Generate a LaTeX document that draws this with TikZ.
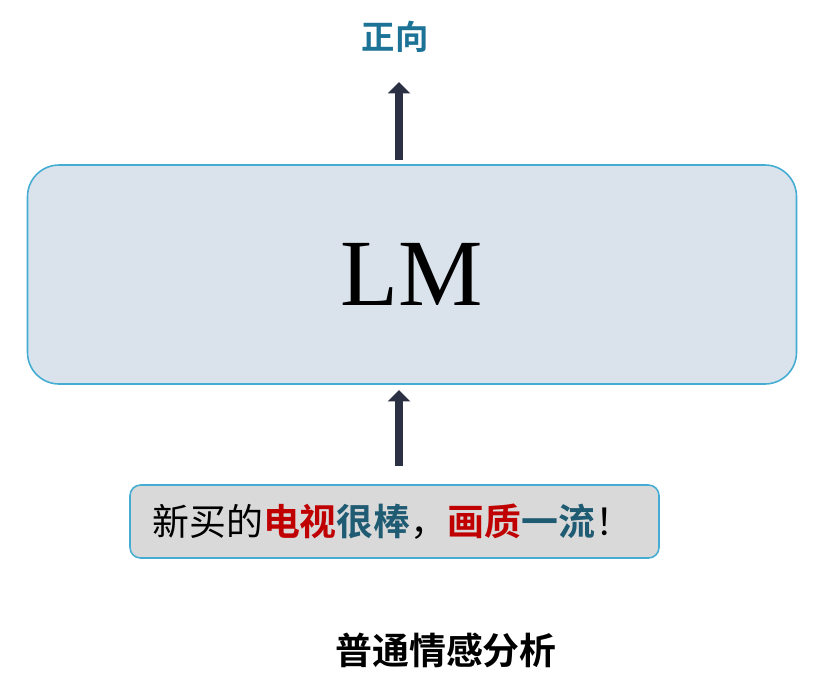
\documentclass[tikz,border=0pt]{standalone}
\usepackage{fontspec}
\setmainfont{Liberation Serif}
\newfontfamily\cjk{Noto Sans CJK SC}
\newfontfamily\cjkbold{Noto Sans CJK SC Bold}
\usetikzlibrary{arrows.meta}

\definecolor{lmfill}{HTML}{DAE3EC}
\definecolor{boxline}{HTML}{45ADD3}
\definecolor{infill}{HTML}{D9D9D9}
\definecolor{arrowcol}{HTML}{2B3042}
\definecolor{hotred}{HTML}{C00000}
\definecolor{deepteal}{HTML}{1F5B72}
\definecolor{toplabel}{HTML}{1C7396}

\tikzset{
    flow/.style={draw=arrowcol, line width=5pt,
        -{Triangle[width=12.5pt,length=6.5pt]}},
}

\begin{document}
\begin{tikzpicture}[x=0.02cm, y=-0.02cm]
\useasboundingbox (0,0) rectangle (813,680);

\begin{scope}[every node/.style={inner sep=0pt}]
    \node[draw=boxline, line width=0.9pt, fill=lmfill, rounded corners=18pt,
          minimum width=769*0.02cm, minimum height=219*0.02cm]
          (lm) at (412,274.5) {\fontsize{54}{60}\selectfont LM};
    \node[draw=boxline, line width=0.9pt, fill=infill, rounded corners=6pt,
          minimum width=529*0.02cm, minimum height=73*0.02cm]
          (input) at (394.5,521.5) {};
    \node[anchor=west] (sent) at (152,522) {\fontsize{21}{25}\selectfont
        \cjk 新买的{\cjkbold\color{hotred}电视}{\cjkbold\color{deepteal}很棒}，%
        {\cjkbold\color{hotred}画质}{\cjkbold\color{deepteal}一流}！};
    \node (pos) at (395,37) {\fontsize{19}{23}\selectfont\cjkbold\color{toplabel}正向};
    \node (task) at (446,650) {\fontsize{21}{25}\selectfont\cjkbold 普通情感分析};
\end{scope}

    \coordinate (tip) at (399,82);
    \draw[flow] (399,160) -- (tip);
    \draw[flow] (input.north -| tip) ++(0,-18) -- (399,390);

\end{tikzpicture}
\end{document}
